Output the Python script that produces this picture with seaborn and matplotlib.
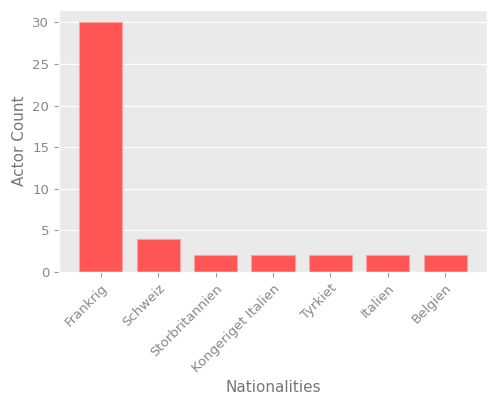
import matplotlib
matplotlib.use('Agg')
import matplotlib.pyplot as plt
import seaborn as sns
import pandas as pd

# dados
nacionalidades = ['Frankrig', 'Schweiz', 'Storbritannien', 'Kongeriget Italien',
                  'Tyrkiet', 'Italien', 'Belgien']
contagem = [30, 4, 2, 2, 2, 2, 2]

df = pd.DataFrame({'Nationalities': nacionalidades, 'Actor Count': contagem})

plt.style.use('ggplot')
plt.rcParams['font.family'] = ['DejaVu Sans']

fig = plt.figure(figsize=(5, 4), dpi=100)
ax = fig.add_axes([0.118, 0.32, 0.856, 0.655])
ax.set_facecolor('#EAEAEA')

sns.barplot(data=df, x='Nationalities', y='Actor Count', color='#FF5555',
            saturation=1, width=0.75, edgecolor='#FFA0A0', linewidth=0.8, ax=ax)

ax.set_xlim(-0.73, 6.73)
ax.set_ylim(0, 31.5)
ax.set_yticks([0, 5, 10, 15, 20, 25, 30])
ax.set_xlabel('Nationalities', color='#777777', fontsize=11, labelpad=4)
ax.set_ylabel('Actor Count', color='#777777', fontsize=11)
ax.tick_params(axis='both', colors='#999999', labelsize=9.5, labelcolor='#888888')
ax.grid(axis='x', visible=False)
plt.setp(ax.get_xticklabels(), rotation=45, ha='right', rotation_mode='anchor')

fig.savefig('out.png', dpi=100)
